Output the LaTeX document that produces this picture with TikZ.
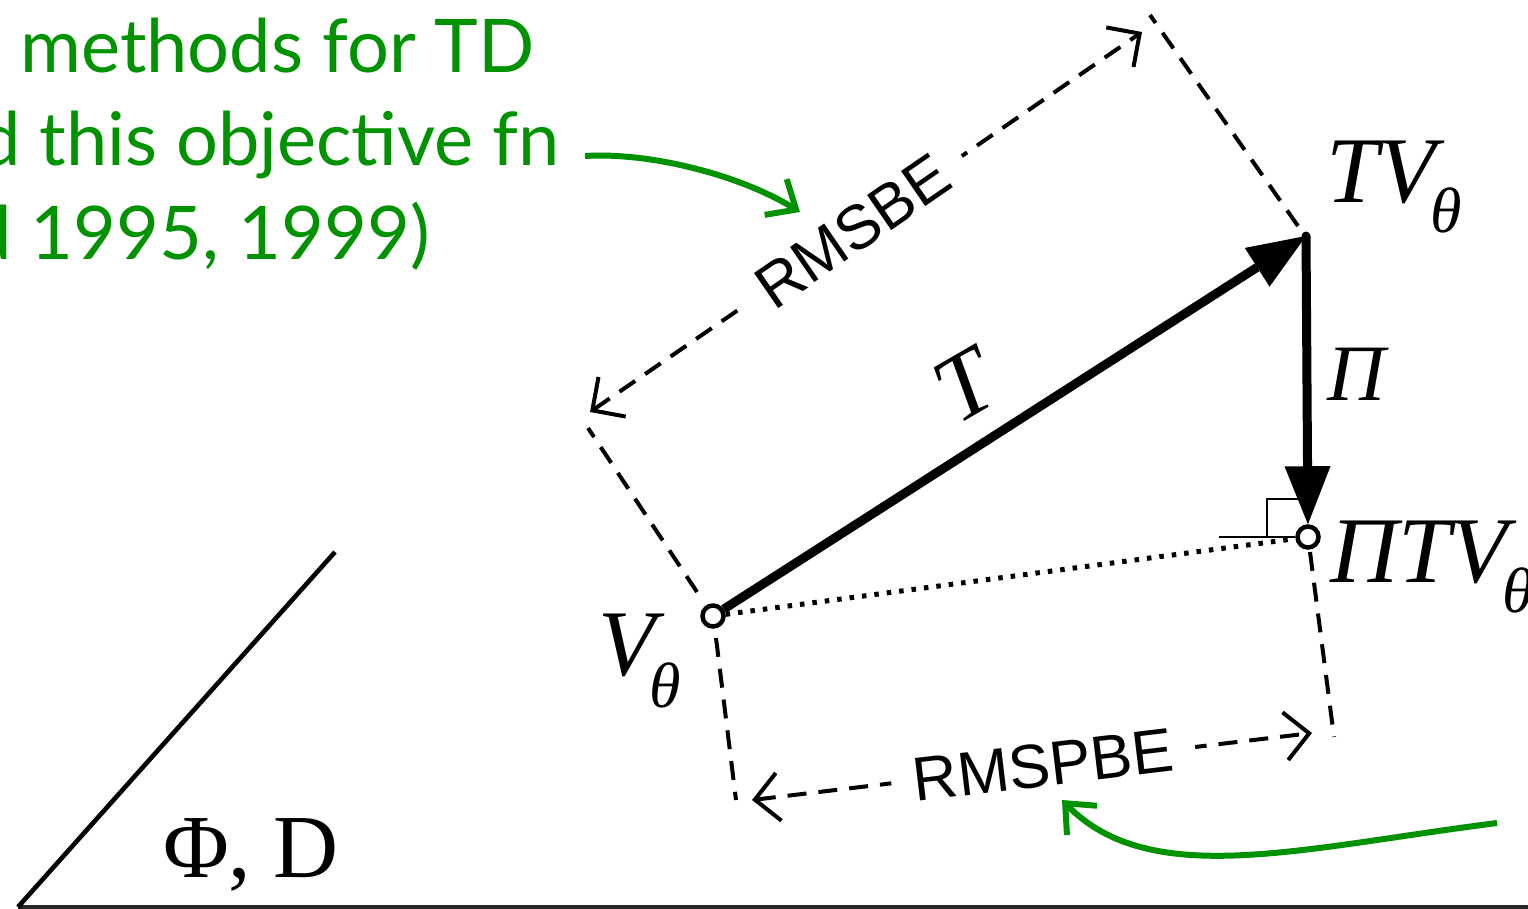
\documentclass[tikz,border=0pt]{standalone}
\usepackage{fontspec}
\setmainfont{Liberation Serif}
\newfontfamily\notefont{Lato}
\newfontfamily\tagfont{Liberation Sans}
\usetikzlibrary{arrows.meta}
\definecolor{notegreen}{RGB}{0,146,0}
\newcommand{\sz}[1]{\fontsize{#1}{#1}\selectfont}

\begin{document}
\begin{tikzpicture}[x=1pt,y=-1pt,
  vec/.style={line width=9pt, -{Triangle[length=58pt,width=46pt,line width=0pt]}},
  pt/.style={circle, draw, line width=4.5pt, fill=white, minimum size=21pt, inner sep=0pt},
  guide/.style={line width=4pt, dash pattern=on 19pt off 12pt},
  measure/.style={line width=4pt, dash pattern=on 19pt off 12pt,
    {Straight Barb[length=24pt,width=48pt]}-{Straight Barb[length=24pt,width=48pt]}},
  proj/.style={line width=5pt, dash pattern=on 4.5pt off 8pt},
  mathlbl/.style={inner sep=0pt, font=\sz{94}\itshape},
  errlbl/.style={fill=white, inner xsep=22pt, inner ysep=4pt, font=\tagfont\sz{62}, sloped},
  note/.style={inner sep=0pt, text=notegreen, font=\notefont\sz{74}},
  pointer/.style={draw=notegreen, line width=6pt, -{Straight Barb[length=24pt,width=42pt]}},
]
\useasboundingbox (0,0) rectangle (1528,909);
\clip (0,0) rectangle (1528,909);

% subspace line and its label
\coordinate (base0) at (18,907);
\coordinate (base1) at (1528,907);
\coordinate (diag) at (335,552);
\draw[line width=3.2pt, black!85] (base0) -- (base1);
\draw[line width=4.6pt] (base0) -- (diag);
\node[inner sep=0pt, anchor=base west, font=\sz{90}] (space) at (163,877) {Φ, D};

% points
\coordinate (TV) at (1306,236);
\node[pt] (V) at (713,616) {};
\node[pt] (PTV) at (1308,537) {};

% right-angle mark
\coordinate (ra0) at (1219,537);
\coordinate (ra1) at (1295,537);
\coordinate (ra2) at (1267,537);
\coordinate (ra3) at (1267,499);
\coordinate (ra4) at (1306,499);
\draw[line width=2.8pt] (ra0) -- (ra1);
\draw[line width=2.8pt] (ra2) -- (ra3) -- (ra4);

% guide lines
\coordinate (g1a) at (697,592);  \coordinate (g1b) at (588,428);
\coordinate (g2a) at (1298,226); \coordinate (g2b) at (1150,15);
\coordinate (g3a) at (716,638);  \coordinate (g3b) at (736,800);
\coordinate (g4a) at (1310,552); \coordinate (g4b) at (1334,737);
\draw[guide] (g1a) -- (g1b);
\draw[guide] (g2a) -- (g2b);
\draw[guide] (g3a) -- (g3b);
\draw[guide] (g4a) -- (g4b);

% error measures
\coordinate (m1a) at (590,412); \coordinate (m1b) at (1142,32);
\coordinate (m2a) at (752,800); \coordinate (m2b) at (1312,733);
\draw[measure] (m1a) -- node[errlbl, pos=0.476] (rmsbe) {RMSBE} (m1b);
\draw[measure] (m2a) -- node[errlbl, pos=0.52] (rmspbe) {RMSPBE} (m2b);

% projection and operators
\draw[proj] (V) -- (PTV);
\draw[vec] (V) -- (TV);
\draw[vec, line cap=round] (TV) -- (PTV);

% labels
\node[mathlbl, anchor=base west] (lTV) at (1326,203) {TV\kern-5pt\raisebox{-30pt}{\sz{64}θ}};
\node[mathlbl, anchor=base west] (lPi) at (1327,400) {\sz{80}Π};
\node[mathlbl, anchor=base west] (lPTV) at (1330,582) {ΠTV\kern-5pt\raisebox{-30pt}{\sz{64}θ}};
\node[mathlbl, anchor=base west] (lV) at (598,675) {V\kern-6pt\raisebox{-32pt}{\sz{64}θ}};
\node[mathlbl, rotate=30] (lT) at (965,386) {T};

% annotation text
\node[note, anchor=base east] (n1) at (535,73) {methods for TD};
\node[note, anchor=base east] (n2) at (560,166) {d this objective fn};
\node[note, anchor=base east] (n3) at (430,260) {d 1995, 1999)};

% annotation pointers
\coordinate (p1s) at (585,156); \coordinate (p1e) at (800,212);
\coordinate (p2s) at (1497,823); \coordinate (p2e) at (1062,800);
\draw[pointer] (p1s) .. controls (650,152) and (740,175) .. (p1e);
\draw[pointer] (p2s) .. controls (1300,848) and (1150,890) .. (p2e);
\end{tikzpicture}
\end{document}
